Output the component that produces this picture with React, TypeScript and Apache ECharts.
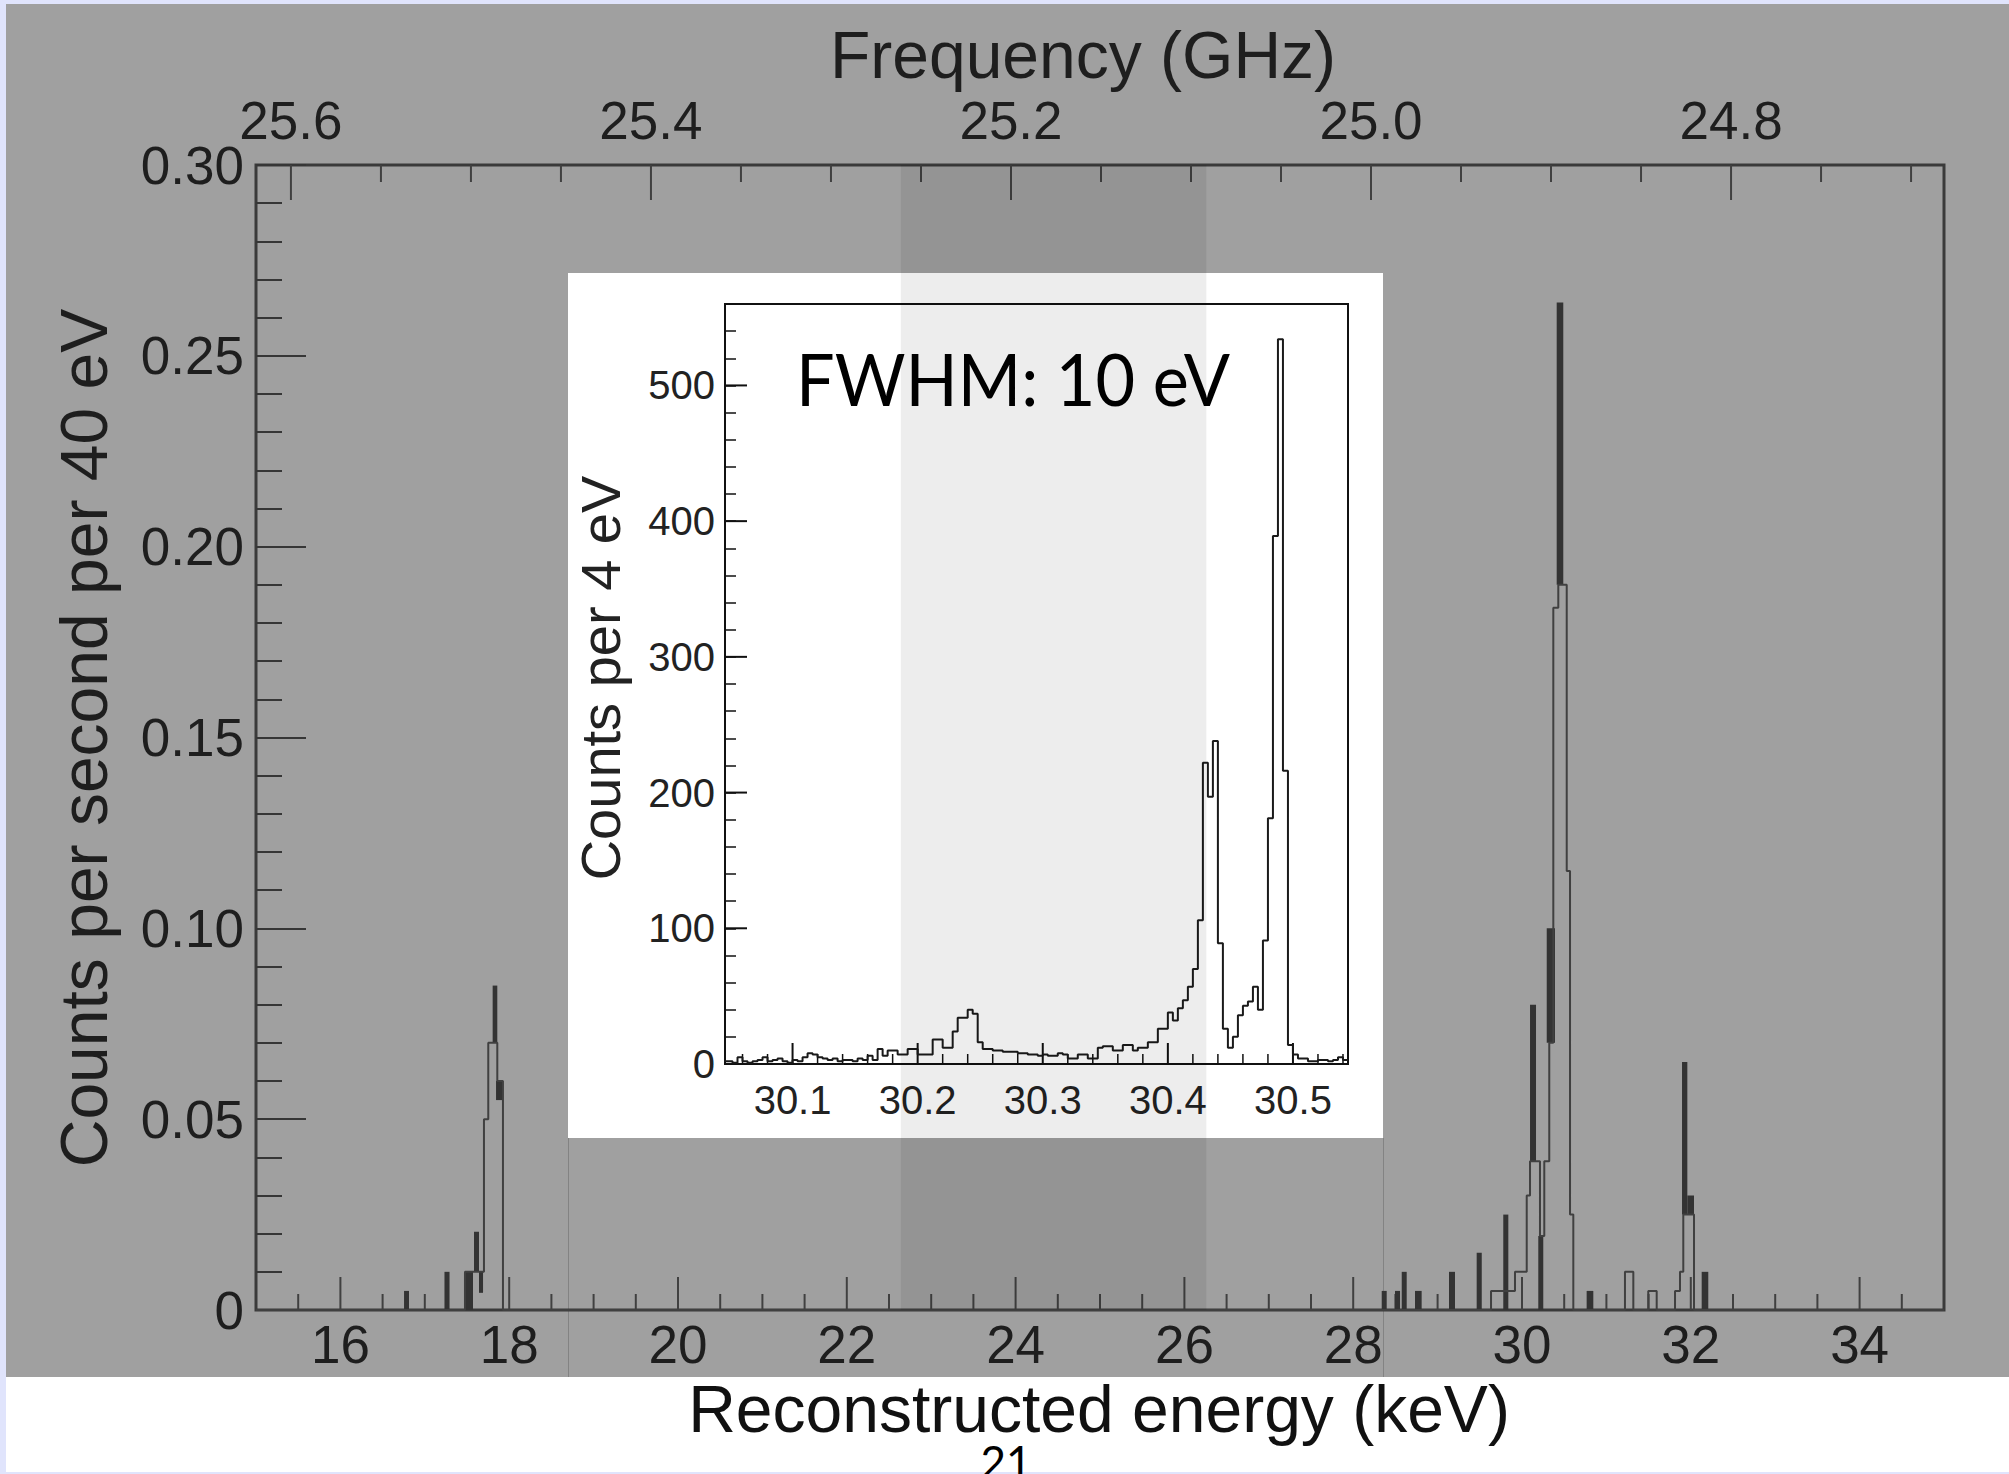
import React, { useEffect, useRef } from 'react';
import * as echarts from 'echarts';

const W = 2009;
const H = 1474;
const FONT = '"Liberation Sans", Arial, Helvetica, sans-serif';
const SLIDE_FONT = 'Lato, "Open Sans", sans-serif';

// ---------------- main spectrum ----------------
const ENERGY_MIN = 15;
const ENERGY_MAX = 35;
const RATE_MAX = 0.3;
const FREQ_AT_ENERGY_MIN = 25.6194; // GHz at the left edge (top axis runs backwards)
const FREQ_AT_ENERGY_MAX = 24.6817; // GHz at the right edge

// thin outline histogram: left bin edge (keV) and rate (counts / s / 40 eV)
const MAIN_EDGES = [15.0, 17.476, 17.701, 17.752, 17.859, 17.926, 29.633, 29.917, 30.056, 30.095, 30.213, 30.264, 30.323, 30.371, 30.43, 30.53, 30.569, 30.608, 31.22, 31.319, 31.496, 31.596, 31.813, 31.872, 31.911, 32.038, 35.0];
const MAIN_RATES = [0, 0.01, 0.05, 0.07, 0.06, 0, 0.005, 0.01, 0.03, 0.039, 0.0194, 0.039, 0.07, 0.184, 0.19, 0.115, 0.025, 0, 0.01, 0, 0.005, 0, 0.005, 0.01, 0.025, 0, 0];

// dark narrow bins: [start keV, end keV, low rate, high rate]
const DARK_BARS = [
  [16.754, 16.813, 0, 0.005],
  [17.233, 17.293, 0, 0.01],
  [17.476, 17.571, 0, 0.01],
  [17.583, 17.642, 0.01, 0.0205],
  [17.642, 17.69, 0.0045, 0.01],
  [17.804, 17.859, 0.07, 0.085],
  [17.844, 17.926, 0.055, 0.06],
  [28.338, 28.397, 0, 0.005],
  [28.495, 28.555, 0, 0.005],
  [28.575, 28.634, 0, 0.01],
  [28.732, 28.811, 0, 0.005],
  [29.135, 29.206, 0, 0.01],
  [29.463, 29.523, 0, 0.015],
  [29.778, 29.838, 0, 0.025],
  [30.095, 30.166, 0.039, 0.08],
  [30.193, 30.252, 0, 0.0194],
  [30.293, 30.391, 0.07, 0.1],
  [30.411, 30.489, 0.19, 0.264],
  [30.766, 30.845, 0, 0.005],
  [31.896, 31.959, 0.025, 0.065],
  [31.959, 32.038, 0.025, 0.03],
  [32.129, 32.207, 0, 0.01],
];

const BAND_KEV = [22.64, 26.26];

const ENERGY_LABELS = [16, 18, 20, 22, 24, 26, 28, 30, 32, 34];
const ENERGY_MINOR = [15.5, 16.5, 17, 17.5, 18.5, 19, 19.5, 20.5, 21, 21.5, 22.5, 23, 23.5, 24.5, 25, 25.5, 26.5, 27, 27.5, 28.5, 29, 29.5, 30.5, 31, 31.5, 32.5, 33, 33.5, 34.5];
const FREQ_LABELS = [25.6, 25.4, 25.2, 25.0, 24.8];
const FREQ_MINOR = [25.55, 25.5, 25.45, 25.35, 25.3, 25.25, 25.15, 25.1, 25.05, 24.95, 24.9, 24.85, 24.75, 24.7];

// ---------------- inset ----------------
const INSET_E_MIN = 30.046;
const INSET_E_MAX = 30.544;
const INSET_COUNT_MAX = 560;
const INSET_FIRST_EDGE = 30.044;
const INSET_BIN = 0.004;
const INSET_COUNTS = [
  2,
  2, 1, 5, 2, 1, 2, 3, 5, 2, 3, 4, 2, 1, 3, 2,
  5, 8, 7, 5, 4, 3, 4, 2, 3, 3, 2, 4, 3,
  6, 3, 11, 6, 10, 10, 7, 7, 11, 11, 7, 7, 7, 18, 18, 12, 12,
  24, 34, 34, 40, 37, 16, 11, 11, 10, 10, 9, 9, 9, 8, 8, 7, 7, 6, 7, 6, 6, 8,
  7, 4, 4, 7, 7, 4, 4, 12, 13, 13, 10, 10, 14, 14, 10, 12, 12, 16, 16, 26, 26, 38, 32, 41, 47, 57, 70, 106,
  222, 197, 238, 89, 26, 12, 20, 36, 43, 46, 57, 40, 91, 181, 389, 534, 216, 14, 7, 4, 4, 2, 2, 3, 3, 2, 3, 5, 3,
];
const INSET_LABELS = [30.1, 30.2, 30.3, 30.4, 30.5];
const INSET_MINOR = [30.06, 30.08, 30.12, 30.14, 30.16, 30.18, 30.22, 30.24, 30.26, 30.28, 30.32, 30.34, 30.36, 30.38, 30.42, 30.44, 30.46, 30.48, 30.52, 30.54];
const INSET_Y_MAJOR = [0, 100, 200, 300, 400, 500];

function vTicks(values: number[], xi: number, yi: number, yAnchor: number, len: number, dir: number, color: string, width: number, z: number) {
  return {
    type: 'custom', xAxisIndex: xi, yAxisIndex: yi, z, silent: true, clip: false,
    data: values.map((v) => [v, yAnchor]),
    encode: { x: 0, y: 1 },
    renderItem: (_p: any, api: any) => {
      const p = api.coord([api.value(0), api.value(1)]);
      return { type: 'line', shape: { x1: p[0], y1: p[1], x2: p[0], y2: p[1] + dir * len }, style: { stroke: color, lineWidth: width } };
    },
  };
}

function hTicks(values: number[], xi: number, yi: number, xAnchor: number, len: number, color: string, width: number, z: number) {
  return {
    type: 'custom', xAxisIndex: xi, yAxisIndex: yi, z, silent: true, clip: false,
    data: values.map((v) => [xAnchor, v]),
    encode: { x: 0, y: 1 },
    renderItem: (_p: any, api: any) => {
      const p = api.coord([api.value(0), api.value(1)]);
      return { type: 'line', shape: { x1: p[0], y1: p[1], x2: p[0] + len, y2: p[1] }, style: { stroke: color, lineWidth: width } };
    },
  };
}

function xLabels(values: number[], texts: string[], xi: number, yi: number, yAnchor: number, dy: number, fontSize: number, color: string, z: number) {
  return {
    type: 'custom', xAxisIndex: xi, yAxisIndex: yi, z, silent: true, clip: false,
    data: values.map((v) => [v, yAnchor]),
    encode: { x: 0, y: 1 },
    renderItem: (params: any, api: any) => {
      const p = api.coord([api.value(0), api.value(1)]);
      return {
        type: 'text', x: p[0], y: p[1] + dy,
        style: { text: texts[params.dataIndex], fill: color, fontSize, fontFamily: FONT, align: 'center', verticalAlign: 'middle', textAlign: 'center', textVerticalAlign: 'middle' },
      };
    },
  };
}

function gText(text: string, x: number, y: number, fontSize: number, color: string, family: string, align: string, rotation = 0, scaleX = 1, lineHeight?: number) {
  const style: any = { text, fill: color, fontSize, fontFamily: family, align, verticalAlign: 'middle', textAlign: align, textVerticalAlign: 'middle' };
  if (lineHeight) style.lineHeight = lineHeight;
  return { type: 'text', x, y, rotation, scaleX, silent: true, style };
}

function buildOption(): any {
  const mainLine = MAIN_EDGES.map((e, i) => [e, MAIN_RATES[i]]);
  const insetLine = INSET_COUNTS.map((c, i) => [+(INSET_FIRST_EDGE + i * INSET_BIN).toFixed(3), c]);
  insetLine.push([INSET_E_MAX, INSET_COUNTS[INSET_COUNTS.length - 1]]);

  const tickC = '#404040';
  return {
    animation: false,
    backgroundColor: '#e0e4fc',
    graphic: {
      elements: [
        { type: 'rect', silent: true, shape: { x: 6, y: 1377, width: W - 6, height: 95 }, style: { fill: '#ffffff' } },
        { type: 'rect', silent: true, shape: { x: 6, y: 4, width: W - 6, height: 1373 }, style: { fill: '#a0a0a0' } },
        { type: 'rect', silent: true, shape: { x: 568, y: 273, width: 815, height: 865 }, style: { fill: '#ffffff' } },
        { type: 'line', silent: true, shape: { x1: 568.5, y1: 1138, x2: 568.5, y2: 1377 }, style: { stroke: '#838383', lineWidth: 1 } },
        { type: 'line', silent: true, shape: { x1: 1383.5, y1: 1138, x2: 1383.5, y2: 1377 }, style: { stroke: '#838383', lineWidth: 1 } },
        gText('Frequency (GHz)', 1083, 55, 66, '#1e1e1e', FONT, 'center'),
        gText('Reconstructed energy (keV)', 1099, 1409, 66, '#111111', FONT, 'center', 0, 1, 50),
        gText('Counts per second per 40 eV', 84, 738, 66, '#1e1e1e', FONT, 'center', Math.PI / 2),
        gText('Counts per 4 eV', 600, 678, 56, '#222222', FONT, 'center', Math.PI / 2),
        gText('FWHM: 10 eV', 796, 378, 72, '#000000', SLIDE_FONT, 'left', 0, 0.95),
        gText('21', 1006, 1461, 44, '#000000', SLIDE_FONT, 'center', 0, 1, 30),
      ],
    },
    grid: [
      { left: 256, top: 165, width: 1688, height: 1145, show: true, borderColor: '#3a3a3a', borderWidth: 3, backgroundColor: 'transparent', z: 1 },
      { left: 725, top: 304, width: 623, height: 760, show: true, borderColor: '#111111', borderWidth: 2, backgroundColor: 'transparent', z: 4 },
    ],
    xAxis: [
      { gridIndex: 0, type: 'value', min: ENERGY_MIN, max: ENERGY_MAX, show: false },
      { gridIndex: 0, type: 'value', min: FREQ_AT_ENERGY_MAX, max: FREQ_AT_ENERGY_MIN, inverse: true, position: 'top', show: false },
      { gridIndex: 1, type: 'value', min: INSET_E_MIN, max: INSET_E_MAX, show: false },
    ],
    yAxis: [
      {
        gridIndex: 0, type: 'value', min: 0, max: RATE_MAX, interval: 0.05, z: 1,
        axisLine: { show: false }, splitLine: { show: false },
        axisTick: { show: true, inside: true, length: 50, lineStyle: { color: '#363636', width: 2 } },
        minorTick: { show: true, splitNumber: 5, length: 26, lineStyle: { color: '#363636', width: 2 } },
        minorSplitLine: { show: false },
        axisLabel: { margin: 12, fontSize: 53, fontFamily: FONT, color: '#1e1e1e', formatter: (v: number) => (v === 0 ? '0' : v.toFixed(2)) },
      },
      {
        gridIndex: 1, type: 'value', min: 0, max: INSET_COUNT_MAX, interval: 20, z: 5,
        axisLine: { show: false }, splitLine: { show: false },
        axisTick: { show: true, inside: true, length: 11, lineStyle: { color: '#111111', width: 1.5 } },
        axisLabel: { margin: 10, fontSize: 40, fontFamily: FONT, color: '#222222', formatter: (v: number) => (Math.round(v) % 100 === 0 && v <= 500 ? String(Math.round(v)) : '') },
      },
    ],
    series: [
      {
        type: 'line', xAxisIndex: 0, yAxisIndex: 0, step: 'end', symbol: 'none', showSymbol: false, z: 3, silent: true,
        data: mainLine, lineStyle: { color: '#404040', width: 2 },
      },
      {
        type: 'custom', xAxisIndex: 0, yAxisIndex: 0, z: 3, silent: true,
        data: DARK_BARS, encode: { x: [0, 1], y: [2, 3] },
        renderItem: (_p: any, api: any) => {
          const a = api.coord([api.value(0), api.value(3)]);
          const b = api.coord([api.value(1), api.value(2)]);
          return { type: 'rect', shape: { x: a[0], y: a[1], width: b[0] - a[0], height: b[1] - a[1] }, style: { fill: '#333333' } };
        },
      },
      vTicks(ENERGY_MINOR, 0, 0, 0, 16, -1, tickC, 2, 2),
      vTicks(ENERGY_LABELS, 0, 0, 0, 33, -1, tickC, 2, 2),
      vTicks(FREQ_MINOR, 1, 0, RATE_MAX, 17, 1, tickC, 2, 2),
      vTicks(FREQ_LABELS, 1, 0, RATE_MAX, 35, 1, tickC, 2, 2),
      xLabels(ENERGY_LABELS, ENERGY_LABELS.map((v) => String(v)), 0, 0, 0, 34, 53, '#1e1e1e', 2),
      xLabels(FREQ_LABELS, FREQ_LABELS.map((v) => v.toFixed(1)), 1, 0, RATE_MAX, -45, 53, '#1e1e1e', 2),
      // inset
      {
        type: 'line', xAxisIndex: 2, yAxisIndex: 1, step: 'end', symbol: 'none', showSymbol: false, z: 6, silent: true,
        data: insetLine, lineStyle: { color: '#1a1a1a', width: 2 },
      },
      hTicks(INSET_Y_MAJOR, 2, 1, INSET_E_MIN, 22, '#111111', 2, 6),
      vTicks(INSET_MINOR, 2, 1, 0, 10, -1, '#111111', 1.5, 6),
      vTicks(INSET_LABELS, 2, 1, 0, 21, -1, '#111111', 2, 6),
      xLabels(INSET_LABELS, INSET_LABELS.map((v) => v.toFixed(1)), 2, 1, 0, 36, 40, '#222222', 6),
      // shaded band over everything inside the plot frame
      {
        type: 'custom', xAxisIndex: 0, yAxisIndex: 0, z: 20, silent: true, clip: false,
        data: [[BAND_KEV[0], BAND_KEV[1]]], encode: { x: [0, 1] },
        renderItem: (_p: any, api: any) => {
          const a = api.coord([api.value(0), RATE_MAX]);
          const b = api.coord([api.value(1), 0]);
          return { type: 'rect', shape: { x: a[0], y: a[1], width: b[0] - a[0], height: b[1] - a[1] }, style: { fill: 'rgba(0,0,0,0.07)' } };
        },
      },
    ],
  };
}

export default function App() {
  const ref = useRef<HTMLDivElement>(null);
  useEffect(() => {
    const chart = echarts.init(ref.current as HTMLDivElement, undefined, { renderer: 'svg', width: W, height: H });
    chart.setOption(buildOption());
    return () => chart.dispose();
  }, []);
  return <div ref={ref} style={{ position: 'absolute', left: 0, top: 0, width: W, height: H }} />;
}
